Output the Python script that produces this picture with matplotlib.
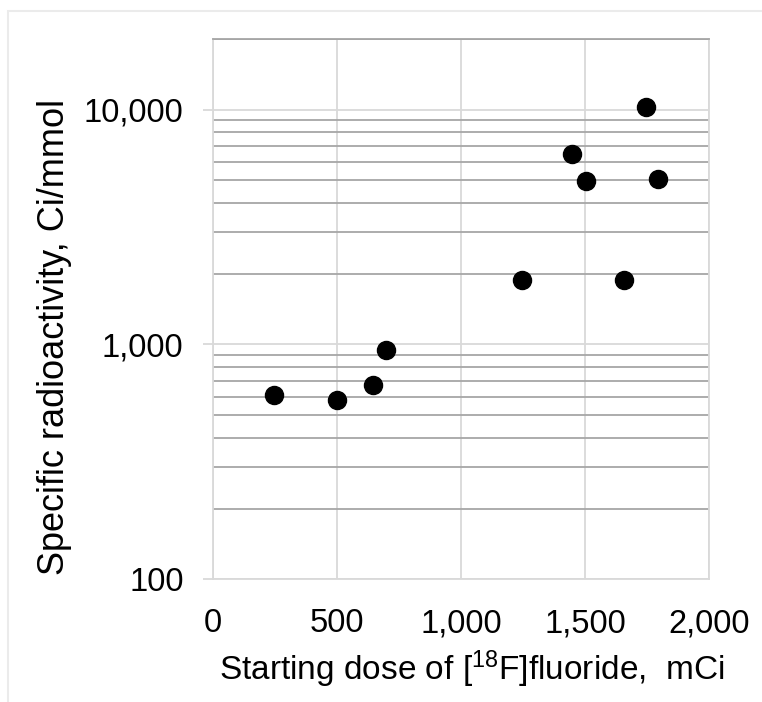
import matplotlib
matplotlib.use("Agg")
import matplotlib.pyplot as plt
from matplotlib.ticker import FixedLocator, FuncFormatter, NullFormatter
from matplotlib.patches import Rectangle

plt.rcParams['font.family'] = ['Liberation Sans', 'DejaVu Sans']
plt.rcParams['mathtext.fontset'] = 'custom'
plt.rcParams['mathtext.rm'] = 'Liberation Sans'
plt.rcParams['mathtext.it'] = 'Liberation Sans'

dose = [247, 500, 647, 698, 1246, 1446, 1505, 1658, 1745, 1795]
activity = [611, 583, 674, 950, 1884, 6500, 4975, 1884, 10260, 5060]

x_ticks = [0, 500, 1000, 1500, 2000]
y_major = [100, 1000, 10000]
y_minor = [m * 10 ** e for e in (2, 3, 4) for m in range(2, 10) if m * 10 ** e <= 20000]

fig = plt.figure(figsize=(7.62, 7.02), dpi=100)
fig.patches.append(Rectangle((8 / 762, -0.1), 1.2, 1.1 - 11 / 702, transform=fig.transFigure,
                             fill=False, edgecolor='#ebebeb', linewidth=1.5, zorder=0))
ax = fig.add_axes([212.7 / 762, 1 - 579.3 / 702, (709 - 212.7) / 762, (579.3 - 39) / 702])

ax.set_yscale('log')
ax.set_xlim(0, 2000)
ax.set_ylim(100, 20000)

ax.xaxis.set_major_locator(FixedLocator(x_ticks))
ax.xaxis.set_major_formatter(FuncFormatter(lambda v, p: f"{int(v):,}"))
ax.yaxis.set_major_locator(FixedLocator(y_major))
ax.yaxis.set_major_formatter(FuncFormatter(lambda v, p: f"{int(round(v)):,}"))
ax.yaxis.set_minor_locator(FixedLocator(y_minor))
ax.yaxis.set_minor_formatter(NullFormatter())

ax.grid(True, axis='x', which='major', color='#d9d9d9', linewidth=1.3)
ax.grid(True, axis='y', which='major', color='#d9d9d9', linewidth=1.3)
ax.grid(True, axis='y', which='minor', color='#a6a6a6', linewidth=1.3)
ax.set_axisbelow(True)

for s in ('left', 'bottom', 'right'):
    ax.spines[s].set_color('#d9d9d9')
    ax.spines[s].set_linewidth(1.3)
ax.spines['top'].set_color('#a6a6a6')
ax.spines['top'].set_linewidth(1.3)

ax.tick_params(axis='x', which='both', length=0, labelsize=23.5, pad=21, colors='black')
ax.tick_params(axis='y', which='major', length=7, width=1.3, color='#d9d9d9',
               labelsize=23.5, pad=14, labelcolor='black')
ax.tick_params(axis='y', which='minor', length=0)

ax.plot(dose, activity, 'o', color='black', markersize=13, linestyle='none', zorder=3, clip_on=False)

ax.set_xlabel(r'Starting dose of [$^{\mathrm{18}}$F]fluoride,  mCi', fontsize=24)
ax.xaxis.set_label_coords((472 - 212.7) / 496.3, -(649 - 579.3) / 540.3)
ax.xaxis.label.set_va('top')
ax.set_ylabel('Specific radioactivity, Ci/mmol', fontsize=26, va='center')
ax.yaxis.set_label_coords((55 - 212.7) / 496.3, (579.3 - 337) / 540.3)

fig.savefig('out.png', dpi=100, facecolor='white')
